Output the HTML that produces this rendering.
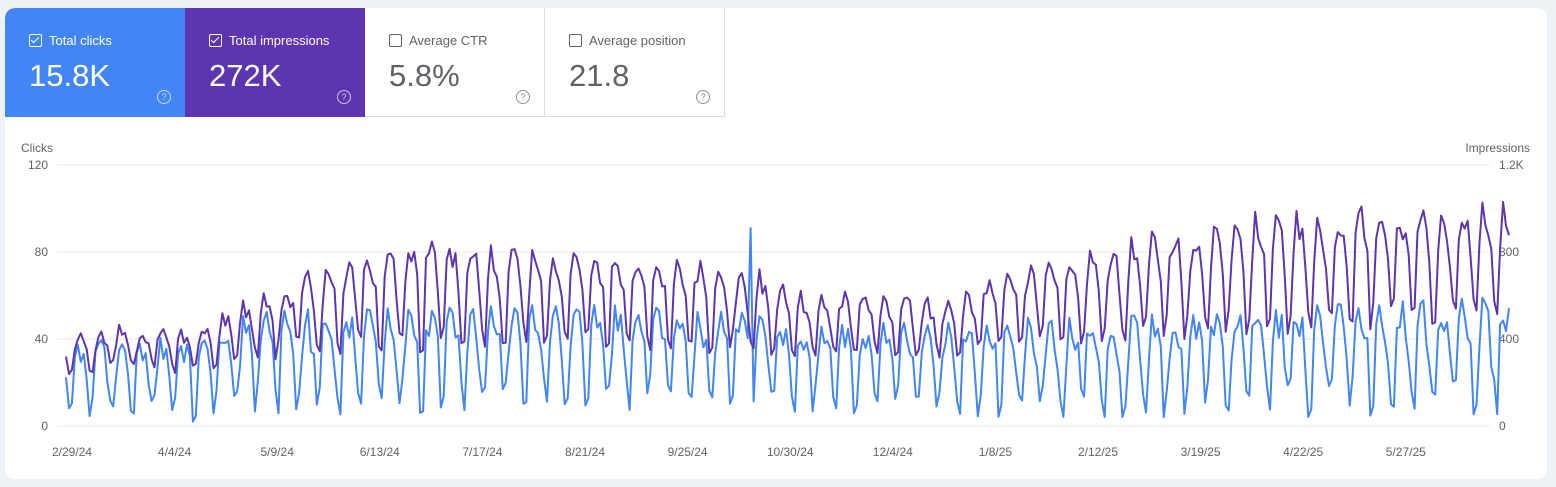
<!DOCTYPE html>
<html><head><meta charset="utf-8"><style>
body{margin:0;width:1556px;height:487px;background:#eef2f7;font-family:"Liberation Sans",sans-serif;overflow:hidden;position:relative}
.card{position:absolute;left:5px;top:8px;width:1542px;height:471px;background:#fff;border-radius:10px;overflow:hidden}
.tile{position:absolute;top:0;height:109px;width:180px;box-sizing:border-box}
.t1{left:0;background:#4285f4;color:#fff;border-top-left-radius:10px}
.t2{left:180px;background:#5e35b1;color:#fff}
.t3{left:360px;border-right:1px solid #dadce0;border-bottom:1px solid #dadce0;color:#5f6368}
.t4{left:540px;border-right:1px solid #dadce0;border-bottom:1px solid #dadce0;color:#5f6368}
.lab{position:absolute;left:24px;top:25px;font-size:13px;display:flex;align-items:center}
.cb{width:11px;height:11px;border:1.5px solid currentColor;border-radius:2px;margin-right:7px;position:relative}
.chk::after{content:"";position:absolute;left:3px;top:0px;width:3px;height:7px;border:solid #fff;border-width:0 1.5px 1.5px 0;transform:rotate(45deg)}
.val{position:absolute;left:24px;top:50px;font-size:31px}
.q{position:absolute;right:14px;top:82px;width:12px;height:12px;border:1px solid currentColor;border-radius:50%;font-size:9px;text-align:center;line-height:12px;opacity:.7}
</style></head><body>
<div class="card">
<div class="tile t1"><div class="lab"><span class="cb chk"></span>Total clicks</div><div class="val">15.8K</div><div class="q">?</div></div>
<div class="tile t2"><div class="lab"><span class="cb chk"></span>Total impressions</div><div class="val">272K</div><div class="q">?</div></div>
<div class="tile t3"><div class="lab"><span class="cb"></span>Average CTR</div><div class="val">5.8%</div><div class="q">?</div></div>
<div class="tile t4"><div class="lab"><span class="cb"></span>Average position</div><div class="val">21.8</div><div class="q">?</div></div>
</div>
<svg id="s" width="1556" height="487" style="position:absolute;left:0;top:0" font-family="Liberation Sans, sans-serif" font-size="12" fill="#5f6368"></svg>
<script>
var s=document.getElementById('s'),h='';
h+='<text x="21" y="152">Clicks</text><text x="1530" y="152" text-anchor="end">Impressions</text>';
var ys=[165,252,339,426],L=['120','80','40','0'],R=['1.2K','800','400','0'];
for(var i=0;i<4;i++){h+='<line x1="57" x2="1490" y1="'+ys[i]+'" y2="'+ys[i]+'" stroke="#e8eaed"/>';
h+='<text x="48" y="'+(ys[i]+4)+'" text-anchor="end">'+L[i]+'</text><text x="1499" y="'+(ys[i]+4)+'">'+R[i]+'</text>';}
var d=['2/29/24','4/4/24','5/9/24','6/13/24','7/17/24','8/21/24','9/25/24','10/30/24','12/4/24','1/8/25','2/12/25','3/19/25','4/22/25','5/27/25'];
for(i=0;i<d.length;i++)h+='<text x="'+(72+i*102.6)+'" y="456" text-anchor="middle">'+d[i]+'</text>';
var seed=11;function r(){seed=(seed*16807)%2147483647;return seed/2147483647;}
// [x, impPeak, impTrough, clkPeak, clkTrough]
var K=[[66,42,24,36,8],[200,44,26,38,5],[250,55,32,48,8],[330,72,35,50,8],[420,82,38,50,10],[560,78,38,52,12],[760,68,36,50,10],[800,58,32,44,10],[960,58,32,44,8],[1000,70,40,46,8],[1100,78,40,46,8],[1250,92,45,50,8],[1510,100,50,55,10]];
function itp(x,k){for(var j=0;j<K.length-1;j++)if(x<=K[j+1][0]){var a=K[j],b=K[j+1],u=(x-a[0])/(b[0]-a[0]);return a[k]+(b[k]-a[k])*u;}return K[K.length-1][k];}
var N=490,x0=66,x1=1509,pc='',pi='';
function Y(v){return 426-v*261/120;}
var shape=[0.75,1,0.95,0.85,0.6,0.05,0.1];
for(i=0;i<N;i++){var x=x0+(x1-x0)*i/(N-1),w=(i+4)%7;
var P=itp(x,1),T=itp(x,2),CP=itp(x,3),CT=itp(x,4);
var f=shape[w]+(r()-0.5)*0.3;f=Math.max(-0.1,Math.min(1.15,f));
var imp=T+(P-T)*f+(r()-0.5)*4;
var g=shape[w]+(r()-0.5)*0.45;g=Math.max(-0.1,Math.min(1.1,g));
var cl=CT+(CP-CT)*g;
if(Math.abs(x-750)<1.6)cl=91;
pi+=(i?'L':'M')+x.toFixed(1)+','+Y(Math.min(imp,103)).toFixed(1);
pc+=(i?'L':'M')+x.toFixed(1)+','+Y(Math.max(cl,2)).toFixed(1);}
h+='<path d="'+pc+'" fill="none" stroke="#4285f4" stroke-width="2" stroke-linejoin="round"/>';
h+='<path d="'+pi+'" fill="none" stroke="#5e35b1" stroke-width="2" stroke-linejoin="round"/>';
s.innerHTML=h;
</script>
</body></html>
